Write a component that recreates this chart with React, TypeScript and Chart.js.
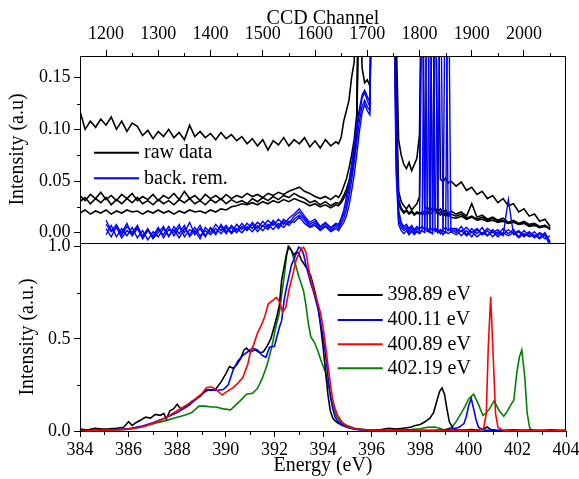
import React, { useEffect, useRef } from "react";
import { Chart, registerables } from "chart.js";

Chart.register(...registerables);

const SERIF = "Liberation Serif";

// ---------------- Top panel: CCD channel ----------------
const channels = [
  1150, 1160, 1170, 1180, 1190, 1200, 1210, 1220, 1230, 1240,
  1250, 1260, 1270, 1280, 1290, 1300, 1310, 1320, 1330, 1340,
  1350, 1360, 1370, 1380, 1390, 1400, 1410, 1420, 1430, 1440,
  1450, 1460, 1470, 1480, 1490, 1500, 1510, 1520, 1530, 1540,
  1550, 1560, 1570, 1580, 1590, 1600, 1610, 1620, 1630, 1640,
  1645, 1650, 1655, 1660, 1665, 1670, 1675, 1680, 1685, 1690,
  1695, 1700, 1705, 1710, 1715, 1720, 1725, 1730, 1735, 1740,
  1745, 1750, 1755, 1760, 1765, 1770, 1775, 1780, 1785, 1790,
  1795, 1800, 1805, 1810, 1815, 1820, 1825, 1830, 1835, 1840,
  1845, 1850, 1855, 1860,
  1870, 1880, 1890, 1900, 1910, 1920, 1930, 1940, 1950, 1960,
  1970, 1980, 1990, 2000, 2010, 2020, 2030, 2040, 2050,
];

const rawUpper = [
  0.118, 0.100, 0.108, 0.102, 0.110, 0.104, 0.112, 0.100, 0.108, 0.098,
  0.106, 0.103, 0.094, 0.099, 0.091, 0.098, 0.093, 0.100, 0.092, 0.097,
  0.090, 0.104, 0.093, 0.098, 0.092, 0.096, 0.090, 0.097, 0.091, 0.095,
  0.089, 0.093, 0.086, 0.091, 0.084, 0.090, 0.080, 0.089, 0.085, 0.092,
  0.084, 0.090, 0.086, 0.092, 0.083, 0.089, 0.082, 0.090, 0.084, 0.088,
  0.086, 0.092, 0.108, 0.118, 0.128, 0.150, 0.165, 0.250, 0.300, 0.160,
  0.145, 0.148, 0.142, 0.300, 0.300, 0.300, 0.300, 0.300, 0.300, 0.300,
  0.300, 0.300, 0.200, 0.090, 0.075, 0.066, 0.062, 0.068, 0.060, 0.066,
  0.072, 0.095, 0.300, 0.300, 0.300, 0.300, 0.300, 0.300, 0.300, 0.052,
  0.049, 0.053, 0.048, 0.050,
  0.045, 0.049, 0.041, 0.044, 0.037, 0.040, 0.033, 0.036, 0.029, 0.033,
  0.026, 0.028, 0.020, 0.023, 0.016, 0.018, 0.011, 0.013, 0.006,
];

const rawMidA = [
  0.036, 0.031, 0.037, 0.033, 0.039, 0.032, 0.036, 0.031, 0.037, 0.033,
  0.038, 0.031, 0.035, 0.032, 0.037, 0.031, 0.036, 0.033, 0.038, 0.032,
  0.040, 0.033, 0.036, 0.031, 0.037, 0.033, 0.036, 0.032, 0.037, 0.033,
  0.036, 0.034, 0.038, 0.035, 0.037, 0.034, 0.038, 0.036, 0.039, 0.037,
  0.040, 0.042, 0.044, 0.040, 0.038, 0.035, 0.033, 0.035, 0.032, 0.036,
  0.034, 0.038, 0.045, 0.052, 0.062, 0.075, 0.090, 0.115, 0.300, 0.300,
  0.300, 0.300, 0.300, 0.300, 0.300, 0.300, 0.300, 0.300, 0.300, 0.300,
  0.300, 0.300, 0.150, 0.040, 0.030, 0.026, 0.023, 0.027, 0.022, 0.025,
  0.028, 0.035, 0.300, 0.026, 0.022, 0.025, 0.021, 0.024, 0.020, 0.023,
  0.019, 0.022, 0.018, 0.021,
  0.018, 0.020, 0.016, 0.028, 0.015, 0.017, 0.013, 0.015, 0.012, 0.014,
  0.010, 0.012, 0.009, 0.011, 0.008, 0.009, 0.006, 0.007, 0.004,
];

const rawMidB = [
  0.030, 0.034, 0.028, 0.033, 0.029, 0.034, 0.027, 0.032, 0.028, 0.033,
  0.029, 0.034, 0.028, 0.031, 0.027, 0.032, 0.028, 0.031, 0.027, 0.032,
  0.029, 0.033, 0.028, 0.031, 0.027, 0.032, 0.029, 0.033, 0.028, 0.032,
  0.029, 0.031, 0.028, 0.033, 0.030, 0.034, 0.031, 0.035, 0.032, 0.036,
  0.034, 0.038, 0.035, 0.033, 0.029, 0.031, 0.027, 0.030, 0.026, 0.029,
  0.028, 0.031, 0.036, 0.042, 0.050, 0.062, 0.080, 0.105, 0.300, 0.300,
  0.300, 0.300, 0.300, 0.300, 0.300, 0.300, 0.300, 0.300, 0.300, 0.300,
  0.300, 0.300, 0.120, 0.032, 0.024, 0.020, 0.022, 0.019, 0.021, 0.018,
  0.020, 0.019, 0.018, 0.021, 0.019, 0.022, 0.300, 0.021, 0.018, 0.020,
  0.017, 0.019, 0.016, 0.018,
  0.016, 0.018, 0.014, 0.016, 0.013, 0.015, 0.012, 0.014, 0.011, 0.012,
  0.009, 0.011, 0.008, 0.010, 0.007, 0.008, 0.005, 0.007, 0.003,
];

const rawLow = [
  0.019, 0.022, 0.018, 0.021, 0.019, 0.022, 0.018, 0.021, 0.019, 0.022,
  0.020, 0.021, 0.018, 0.021, 0.019, 0.022, 0.019, 0.021, 0.018, 0.021,
  0.019, 0.022, 0.020, 0.021, 0.019, 0.022, 0.020, 0.023, 0.022, 0.025,
  0.026, 0.028, 0.027, 0.029, 0.027, 0.030, 0.028, 0.031, 0.029, 0.032,
  0.030, 0.033, 0.031, 0.029, 0.026, 0.028, 0.025, 0.027, 0.024, 0.027,
  0.026, 0.029, 0.033, 0.038, 0.046, 0.057, 0.072, 0.095, 0.300, 0.300,
  0.300, 0.300, 0.300, 0.300, 0.300, 0.300, 0.300, 0.300, 0.300, 0.300,
  0.300, 0.300, 0.100, 0.028, 0.022, 0.019, 0.021, 0.018, 0.020, 0.017,
  0.019, 0.018, 0.020, 0.017, 0.019, 0.018, 0.020, 0.300, 0.019, 0.017,
  0.019, 0.016, 0.018, 0.015,
  0.014, 0.016, 0.013, 0.015, 0.012, 0.013, 0.011, 0.012, 0.010, 0.011,
  0.009, 0.010, 0.008, 0.009, 0.006, 0.007, 0.005, 0.006, 0.004,
];

const backRem1 = [
  null, null, null, null, null, 0.012, 0.002, 0.008, -0.002, 0.006,
  0.000, 0.007, -0.004, 0.004, -0.005, 0.003, -0.002, 0.006, -0.003, 0.005,
  0.000, 0.010, -0.002, 0.004, -0.004, 0.005, 0.000, 0.006, -0.001, 0.007,
  0.002, 0.009, 0.003, 0.010, 0.004, 0.011, 0.005, 0.012, 0.006, 0.013,
  0.009, 0.016, 0.020, 0.014, 0.008, 0.011, 0.005, 0.009, 0.004, 0.008,
  0.006, 0.012, 0.018, 0.028, 0.042, 0.060, 0.080, 0.100, 0.115, 0.130,
  0.136, 0.128, 0.122, 0.300, 0.300, 0.300, 0.300, 0.300, 0.300, 0.300,
  0.300, 0.300, 0.100, 0.018, 0.008, 0.004, 0.006, 0.002, 0.005, 0.001,
  0.004, 0.002, 0.300, 0.004, 0.001, 0.005, 0.002, 0.004, 0.000, 0.003,
  0.001, 0.300, 0.002, 0.004,
  0.000, 0.006, -0.002, 0.004, -0.001, 0.005, -0.003, 0.003, -0.002, 0.004,
  -0.001, 0.003, -0.004, 0.002, -0.003, 0.001, -0.005, 0.000, -0.009,
];

const backRem2 = [
  null, null, null, null, null, 0.004, -0.004, 0.006, 0.000, 0.009,
  -0.003, 0.004, -0.006, 0.002, -0.003, 0.005, -0.005, 0.003, 0.000, 0.008,
  -0.004, 0.003, 0.000, 0.007, -0.003, 0.004, -0.002, 0.008, 0.001, 0.005,
  0.000, 0.006, 0.002, 0.008, 0.001, 0.007, 0.003, 0.010, 0.004, 0.011,
  0.007, 0.013, 0.017, 0.012, 0.006, 0.009, 0.003, 0.007, 0.002, 0.006,
  0.004, 0.009, 0.014, 0.022, 0.035, 0.050, 0.068, 0.088, 0.108, 0.122,
  0.128, 0.122, 0.118, 0.300, 0.300, 0.300, 0.300, 0.300, 0.300, 0.300,
  0.300, 0.300, 0.080, 0.012, 0.005, 0.002, 0.004, 0.000, 0.003, -0.001,
  0.002, 0.000, 0.003, 0.300, 0.002, 0.000, 0.300, 0.001, 0.003, -0.001,
  0.002, 0.000, 0.300, 0.001,
  0.003, -0.003, 0.002, -0.004, 0.003, -0.002, 0.002, -0.004, 0.001, -0.003,
  0.032, -0.002, 0.001, -0.004, 0.000, -0.005, -0.001, -0.006, -0.003,
];

const backRem3 = [
  null, null, null, null, null, -0.002, 0.007, -0.004, 0.004, -0.003,
  0.005, -0.005, 0.002, -0.007, 0.001, -0.004, 0.004, -0.003, 0.003, -0.005,
  0.004, -0.002, 0.005, -0.003, 0.002, -0.002, 0.004, -0.001, 0.005, -0.001,
  0.004, 0.000, 0.006, 0.001, 0.007, 0.002, 0.008, 0.003, 0.009, 0.005,
  0.011, 0.010, 0.015, 0.009, 0.005, 0.007, 0.002, 0.006, 0.001, 0.004,
  0.002, 0.006, 0.010, 0.016, 0.026, 0.040, 0.056, 0.076, 0.098, 0.116,
  0.124, 0.118, 0.114, 0.300, 0.300, 0.300, 0.300, 0.300, 0.300, 0.300,
  0.300, 0.300, 0.060, 0.008, 0.002, -0.001, 0.002, -0.002, 0.001, -0.002,
  0.001, -0.001, 0.002, 0.000, 0.300, 0.001, -0.001, 0.300, 0.000, 0.002,
  -0.002, 0.001, -0.001, 0.001,
  -0.002, 0.002, -0.003, 0.001, -0.004, 0.000, -0.003, 0.001, -0.004, 0.000,
  -0.003, 0.000, -0.005, -0.001, -0.004, -0.002, -0.006, -0.002, -0.010,
];

const backRem4 = [
  null, null, null, null, null, 0.008, 0.001, 0.005, -0.005, 0.002,
  -0.002, 0.005, -0.003, 0.003, -0.006, 0.000, 0.006, -0.004, 0.006, -0.001,
  0.007, -0.004, 0.002, -0.006, 0.005, 0.000, 0.008, 0.002, 0.007, 0.000,
  0.008, 0.003, 0.009, 0.004, 0.010, 0.006, 0.012, 0.007, 0.013, 0.008,
  0.014, 0.018, 0.023, 0.016, 0.010, 0.013, 0.006, 0.010, 0.005, 0.009,
  0.008, 0.014, 0.022, 0.034, 0.048, 0.066, 0.086, 0.106, 0.120, 0.133,
  0.138, 0.132, 0.126, 0.300, 0.300, 0.300, 0.300, 0.300, 0.300, 0.300,
  0.300, 0.300, 0.120, 0.022, 0.010, 0.006, 0.008, 0.004, 0.007, 0.003,
  0.006, 0.004, 0.006, 0.003, 0.005, 0.300, 0.004, 0.002, 0.005, 0.300,
  0.003, 0.005, 0.002, 0.004,
  0.004, 0.001, 0.005, 0.000, 0.004, -0.001, 0.004, 0.000, 0.003, -0.002,
  0.003, -0.001, 0.002, -0.003, 0.001, -0.004, 0.000, -0.003, -0.012,
];

const channelTicks = [1200, 1300, 1400, 1500, 1600, 1700, 1800, 1900, 2000];
const channelMinorTicks = [1250, 1350, 1450, 1550, 1650, 1750, 1850, 1950, 2050];
const topIntensityTicks = [0, 0.05, 0.1, 0.15];
const topIntensityMinorTicks = [0.025, 0.075, 0.125];
const topLegendLabels = ["raw data", "back. rem."];

// ---------------- Bottom panel: energy ----------------
const e398 = [
  384, 384.3, 384.6, 384.9, 385.2, 385.5, 385.8, 386.0, 386.15, 386.3,
  386.5, 386.7, 386.9, 387.1, 387.3, 387.45, 387.55, 387.7, 387.85, 388.0,
  388.15, 388.3, 388.45, 388.6, 388.8, 389.0, 389.2, 389.4, 389.6, 389.8,
  390.0, 390.15, 390.3, 390.45, 390.6, 390.75, 390.85, 391.0, 391.2, 391.4,
  391.55, 391.7, 391.85, 392.0, 392.1, 392.2, 392.3, 392.4, 392.5, 392.6,
  392.7, 392.8, 392.9, 393.0, 393.1, 393.2, 393.3, 393.4, 393.5, 393.6,
  393.7, 393.8, 393.9, 394.0, 394.1, 394.2, 394.3, 394.4, 394.5, 394.6,
  394.8, 395.0, 395.3, 395.6, 396.0, 396.4, 396.7, 397.0, 397.3, 397.6,
  397.8, 398.0, 398.2, 398.4, 398.55, 398.7, 398.8, 398.9, 399.0, 399.1,
  399.2, 399.35, 399.5, 399.8, 400.1, 400.4, 400.6, 400.75, 400.9, 401.1,
  401.4, 401.8, 402.2, 402.6, 403.0, 403.4, 403.8, 404,
];
const i398 = [
  0.010, 0.005, 0.015, 0.010, 0.012, 0.015, 0.020, 0.050, 0.030, 0.045,
  0.060, 0.075, 0.070, 0.090, 0.085, 0.095, 0.065, 0.110, 0.120, 0.145,
  0.120, 0.130, 0.145, 0.160, 0.175, 0.195, 0.225, 0.220, 0.230, 0.265,
  0.310, 0.350, 0.340, 0.360, 0.390, 0.440, 0.450, 0.430, 0.440, 0.425,
  0.430, 0.460, 0.500, 0.570, 0.620, 0.680, 0.820, 0.890, 0.960, 1.000,
  0.980, 0.955, 0.970, 0.965, 0.930, 0.910, 0.890, 0.870, 0.840, 0.790,
  0.740, 0.670, 0.570, 0.460, 0.330, 0.200, 0.110, 0.070, 0.055, 0.045,
  0.030, 0.020, 0.010, 0.008, 0.005, 0.008, 0.015, 0.010, 0.015, 0.020,
  0.030, 0.035, 0.050, 0.070, 0.100, 0.170, 0.215, 0.234, 0.200, 0.120,
  0.050, 0.015, 0.005, 0.005, 0.008, 0.005, 0.010, 0.022, 0.008, 0.005,
  0.003, 0.006, 0.004, 0.005, 0.003, 0.006, 0.003, 0.004,
];

const e400a = [
  384, 384.5, 385, 385.5, 386, 386.5, 387, 387.5, 388, 388.5,
  389, 389.3, 389.6, 389.9, 390.1, 390.3, 390.5, 390.7, 390.9, 391.1,
  391.3, 391.5, 391.65, 391.8, 392.0, 392.1, 392.2, 392.3, 392.4, 392.5,
  392.6, 392.7, 392.8, 392.9, 393.0, 393.1, 393.2, 393.3, 393.4, 393.5,
  393.6, 393.7, 393.8, 393.9, 394.0, 394.1, 394.2, 394.3, 394.4, 394.5,
  394.6, 394.8, 395.0, 395.3, 395.6, 396.0, 396.5, 397.0, 397.5, 398.0,
  398.5, 399.0, 399.3, 399.6, 399.8, 399.9, 400.0, 400.1, 400.2, 400.3,
  400.4, 400.6, 401.0, 401.5, 402.0, 402.5, 403.0, 403.5, 404,
];
const i400a = [
  0.005, 0.004, 0.006, 0.008, 0.012, 0.025, 0.045, 0.070, 0.100, 0.140,
  0.200, 0.225, 0.220, 0.225, 0.250, 0.330, 0.380, 0.410, 0.430, 0.450,
  0.440, 0.410, 0.400, 0.455, 0.460, 0.510, 0.560, 0.600, 0.710, 0.780,
  0.840, 0.900, 0.930, 0.965, 0.997, 0.990, 0.960, 0.900, 0.850, 0.800,
  0.760, 0.710, 0.660, 0.590, 0.510, 0.420, 0.300, 0.190, 0.120, 0.075,
  0.055, 0.035, 0.020, 0.010, 0.005, 0.003, 0.003, 0.004, 0.005, 0.004,
  0.004, 0.006, 0.010, 0.020, 0.040, 0.080, 0.140, 0.176, 0.120, 0.060,
  0.020, 0.005, 0.003, 0.002, 0.003, 0.002, 0.003, 0.002, 0.003,
];

const e400b = [
  384, 384.5, 385, 385.5, 386, 386.5, 387, 387.5, 388, 388.5,
  389, 389.2, 389.4, 389.6, 389.85, 390.0, 390.3, 390.5, 390.7, 390.9,
  391.0, 391.15, 391.3, 391.45, 391.6, 391.75, 391.95, 392.08, 392.22, 392.33,
  392.47, 392.6, 392.77, 392.9, 393.0, 393.1, 393.2, 393.3, 393.45, 393.6,
  393.75, 393.9, 394.0, 394.1, 394.2, 394.3, 394.4, 394.5, 394.6, 394.8,
  395.0, 395.3, 395.7, 396.2, 397, 398, 399, 399.8, 400.3, 400.6,
  400.72, 400.8, 400.9, 400.99, 401.1, 401.2, 401.4, 402, 402.5, 403,
  403.5, 404,
];
const i400b = [
  0.000, 0.002, 0.004, 0.006, 0.010, 0.020, 0.040, 0.070, 0.110, 0.150,
  0.200, 0.235, 0.240, 0.225, 0.195, 0.210, 0.235, 0.260, 0.290, 0.360,
  0.420, 0.470, 0.530, 0.570, 0.620, 0.690, 0.710, 0.725, 0.700, 0.645,
  0.670, 0.765, 0.855, 0.930, 0.960, 0.990, 0.997, 0.970, 0.850, 0.770,
  0.710, 0.640, 0.565, 0.470, 0.360, 0.260, 0.170, 0.120, 0.085, 0.045,
  0.025, 0.012, 0.006, 0.004, 0.003, 0.003, 0.003, 0.004, 0.005, 0.010,
  0.095, 0.450, 0.728, 0.450, 0.095, 0.020, 0.004, 0.003, 0.003, 0.002,
  0.003, 0.003,
];

const e402 = [
  384, 384.5, 385, 385.5, 386, 386.5, 387, 387.5, 388, 388.3,
  388.6, 388.9, 389.15, 389.4, 389.6, 389.9, 390.2, 390.4, 390.6, 390.85,
  391.1, 391.3, 391.5, 391.7, 391.9, 392.05, 392.2, 392.3, 392.42, 392.5,
  392.56, 392.7, 392.8, 392.9, 393.0, 393.1, 393.2, 393.3, 393.4, 393.5,
  393.65, 393.8, 393.95, 394.1, 394.2, 394.35, 394.45, 394.55, 394.7, 394.85,
  395.0, 395.3, 395.7, 396.2, 397.0, 397.6, 398.0, 398.3, 398.6, 398.8,
  399.0, 399.3, 399.5, 399.7, 399.85, 400.0, 400.2, 400.38, 400.58, 400.7,
  400.85, 401.04, 401.25, 401.44, 401.55, 401.7, 401.85, 401.98, 402.08, 402.18,
  402.3, 402.4, 402.5, 402.6, 403.0, 403.5, 404,
];
const i402 = [
  0.000, 0.002, 0.004, 0.006, 0.010, 0.020, 0.040, 0.055, 0.075, 0.085,
  0.100, 0.135, 0.135, 0.130, 0.130, 0.120, 0.115, 0.140, 0.165, 0.200,
  0.205, 0.230, 0.285, 0.360, 0.460, 0.560, 0.640, 0.740, 0.855, 0.950,
  1.000, 0.980, 0.930, 0.890, 0.840, 0.800, 0.760, 0.680, 0.580, 0.510,
  0.480, 0.430, 0.370, 0.320, 0.260, 0.170, 0.120, 0.080, 0.055, 0.040,
  0.030, 0.015, 0.008, 0.005, 0.004, 0.008, 0.012, 0.020, 0.022, 0.015,
  0.005, 0.020, 0.055, 0.100, 0.135, 0.175, 0.200, 0.150, 0.085, 0.095,
  0.120, 0.163, 0.110, 0.080, 0.100, 0.135, 0.167, 0.320, 0.400, 0.440,
  0.300, 0.100, 0.020, 0.000, 0.002, 0.001, 0.002,
];

const energyTicks = [384, 386, 388, 390, 392, 394, 396, 398, 400, 402, 404];
const energyMinorTicks = [385, 387, 389, 391, 393, 395, 397, 399, 401, 403];
const bottomIntensityTicks = [0, 0.5, 1.0];
const bottomIntensityMinorTicks = [0.25, 0.75];
const bottomLegendLabels = ["398.89 eV", "400.11 eV", "400.89 eV", "402.19 eV"];

// ---------------- helpers ----------------
const BLACK = "#000000";
const BLUE = "#0000ff";
const RED = "#ff0000";
const GREEN = "#008000";

const tickFont = { family: SERIF, size: 18 };
const titleFont = { family: SERIF, size: 20 };

function toPoints(xs: number[], ys: (number | null)[]) {
  return xs.map((x, i) => ({ x, y: ys[i] }));
}

function fixSize(w?: number, h?: number) {
  return (scale: any) => {
    if (w !== undefined) scale.width = w;
    if (h !== undefined) scale.height = h;
    scale.paddingTop = 0;
    scale.paddingBottom = 0;
    scale.paddingLeft = 0;
    scale.paddingRight = 0;
  };
}

function setTicks(values: number[]) {
  return (scale: any) => {
    scale.ticks = values.map((v) => ({ value: v }));
  };
}

function line(data: any[], color: string, width: number) {
  return {
    data,
    borderColor: color,
    backgroundColor: color,
    borderWidth: width,
    pointRadius: 0,
    fill: false,
    tension: 0,
  };
}

const decorPlugin = {
  id: "decor",
  afterDraw(chart: any, _args: any, opts: any) {
    const { ctx, chartArea: a } = chart;
    ctx.save();
    ctx.strokeStyle = BLACK;
    ctx.lineWidth = 1;
    const x0 = Math.round(a.left) + 0.5;
    const x1 = Math.round(a.right) - 0.5;
    const y0 = Math.round(a.top) + 0.5;
    const y1 = Math.round(a.bottom) + 0.5;
    ctx.beginPath();
    ctx.rect(x0, y0, x1 - x0, y1 - y0);
    ctx.stroke();

    // minor ticks
    const xs = chart.scales.x;
    const ys = chart.scales.y;
    ctx.beginPath();
    (opts.xMinor || []).forEach((v: number) => {
      const px = Math.round(xs.getPixelForValue(v)) + 0.5;
      if (px < x0 || px > x1) return;
      if (opts.xSide === "top") {
        ctx.moveTo(px, y0);
        ctx.lineTo(px, y0 - 3.5);
      } else {
        ctx.moveTo(px, y1);
        ctx.lineTo(px, y1 + 3.5);
      }
    });
    (opts.yMinor || []).forEach((v: number) => {
      const py = Math.round(ys.getPixelForValue(v)) + 0.5;
      ctx.moveTo(x0, py);
      ctx.lineTo(x0 - 3.5, py);
    });
    ctx.stroke();

    // legend
    const lg = opts.legend;
    if (lg) {
      ctx.font = "20px " + SERIF;
      ctx.textBaseline = "middle";
      ctx.textAlign = "left";
      lg.labels.forEach((label: string, i: number) => {
        const y = lg.rows[i];
        ctx.strokeStyle = lg.colors[i];
        ctx.lineWidth = 2;
        ctx.beginPath();
        ctx.moveTo(lg.lineStart, y);
        ctx.lineTo(lg.lineEnd, y);
        ctx.stroke();
        ctx.fillStyle = BLACK;
        ctx.fillText(label, lg.textX, y);
      });
    }
    ctx.restore();
  },
};

function axisCommon() {
  return {
    type: "linear" as const,
    grid: { drawOnChartArea: false, drawTicks: true, tickLength: 6, tickColor: BLACK, tickWidth: 1 },
    border: { display: false },
  };
}

function topConfig(): any {
  return {
    type: "line",
    data: {
      datasets: [
        line(toPoints(channels, backRem1), BLUE, 1.4),
        line(toPoints(channels, backRem2), BLUE, 1.4),
        line(toPoints(channels, backRem3), BLUE, 1.4),
        line(toPoints(channels, backRem4), BLUE, 1.4),
        line(toPoints(channels, rawUpper), BLACK, 1.6),
        line(toPoints(channels, rawMidA), BLACK, 1.6),
        line(toPoints(channels, rawMidB), BLACK, 1.6),
        line(toPoints(channels, rawLow), BLACK, 1.6),
      ],
    },
    options: {
      responsive: false,
      maintainAspectRatio: false,
      animation: false,
      events: [],
      layout: { padding: { top: 0, left: 0, right: 13, bottom: 7 } },
      plugins: {
        legend: { display: false },
        tooltip: { enabled: false },
        decor: {
          xSide: "top",
          xMinor: channelMinorTicks,
          yMinor: topIntensityMinorTicks,
          legend: {
            labels: topLegendLabels,
            colors: [BLACK, BLUE],
            rows: [152.7, 178.3],
            lineStart: 94,
            lineEnd: 139,
            textX: 144,
          },
        },
      },
      scales: {
        x: {
          ...axisCommon(),
          position: "top",
          min: 1150.2,
          max: 2080.4,
          afterBuildTicks: setTicks(channelTicks),
          afterFit: fixSize(undefined, 56),
          ticks: {
            font: tickFont,
            color: BLACK,
            padding: 5,
            maxRotation: 0,
            autoSkip: false,
            callback: (v: any) => String(v),
          },
          title: { display: true, text: "CCD Channel", font: titleFont, color: BLACK, padding: { top: 7, bottom: 0 } },
        },
        y: {
          ...axisCommon(),
          position: "left",
          min: -0.01,
          max: 0.171,
          afterBuildTicks: setTicks(topIntensityTicks),
          afterFit: fixSize(80),
          ticks: {
            font: tickFont,
            color: BLACK,
            padding: 3.5,
            autoSkip: false,
            callback: (v: any) => Number(v).toFixed(2),
          },
          title: { display: true, text: "Intensity (a.u)", font: titleFont, color: BLACK, padding: { top: 6, bottom: 0 } },
        },
      },
    },
    plugins: [decorPlugin],
  };
}

function bottomConfig(): any {
  return {
    type: "line",
    data: {
      datasets: [
        line(toPoints(e400b, i400b), RED, 1.6),
        line(toPoints(e400a, i400a), BLUE, 1.6),
        line(toPoints(e398, i398), BLACK, 1.6),
        line(toPoints(e402, i402), GREEN, 1.6),
      ],
    },
    options: {
      responsive: false,
      maintainAspectRatio: false,
      animation: false,
      events: [],
      layout: { padding: { top: 18, left: 0, right: 13, bottom: 0 } },
      plugins: {
        legend: { display: false },
        tooltip: { enabled: false },
        decor: {
          xSide: "bottom",
          xMinor: energyMinorTicks,
          yMinor: bottomIntensityMinorTicks,
          legend: {
            labels: bottomLegendLabels,
            colors: [BLACK, BLUE, RED, GREEN],
            rows: [70, 95, 119.3, 143.3],
            lineStart: 337.7,
            lineEnd: 382.7,
            textX: 387.5,
          },
        },
      },
      scales: {
        x: {
          ...axisCommon(),
          position: "bottom",
          min: 384,
          max: 404,
          afterBuildTicks: setTicks(energyTicks),
          afterFit: fixSize(undefined, 48),
          ticks: {
            font: tickFont,
            color: BLACK,
            padding: 2,
            maxRotation: 0,
            autoSkip: false,
            callback: (v: any) => String(v),
          },
          title: { display: true, text: "Energy (eV)", font: titleFont, color: BLACK, padding: { top: 0, bottom: 1 } },
        },
        y: {
          ...axisCommon(),
          position: "left",
          min: 0,
          max: 1.02,
          afterBuildTicks: setTicks(bottomIntensityTicks),
          afterFit: fixSize(80),
          ticks: {
            font: tickFont,
            color: BLACK,
            padding: 3.5,
            autoSkip: false,
            callback: (v: any) => Number(v).toFixed(1),
          },
          title: { display: true, text: "Intensity (a.u.)", font: titleFont, color: BLACK, padding: { top: 16, bottom: 0 } },
        },
      },
    },
    plugins: [decorPlugin],
  };
}

export default function App() {
  const topRef = useRef<HTMLCanvasElement>(null);
  const botRef = useRef<HTMLCanvasElement>(null);

  useEffect(() => {
    const top = new Chart(topRef.current as HTMLCanvasElement, topConfig());
    const bot = new Chart(botRef.current as HTMLCanvasElement, bottomConfig());
    return () => {
      top.destroy();
      bot.destroy();
    };
  }, []);

  return (
    <div style={{ position: "fixed", left: 0, top: 0, width: 579, height: 479, background: "#ffffff", overflow: "hidden" }}>
      <canvas
        ref={topRef}
        width={579}
        height={250}
        style={{ position: "absolute", left: 0, top: 0, width: 579, height: 250 }}
      />
      <canvas
        ref={botRef}
        width={579}
        height={254}
        style={{ position: "absolute", left: 0, top: 225, width: 579, height: 254 }}
      />
    </div>
  );
}
